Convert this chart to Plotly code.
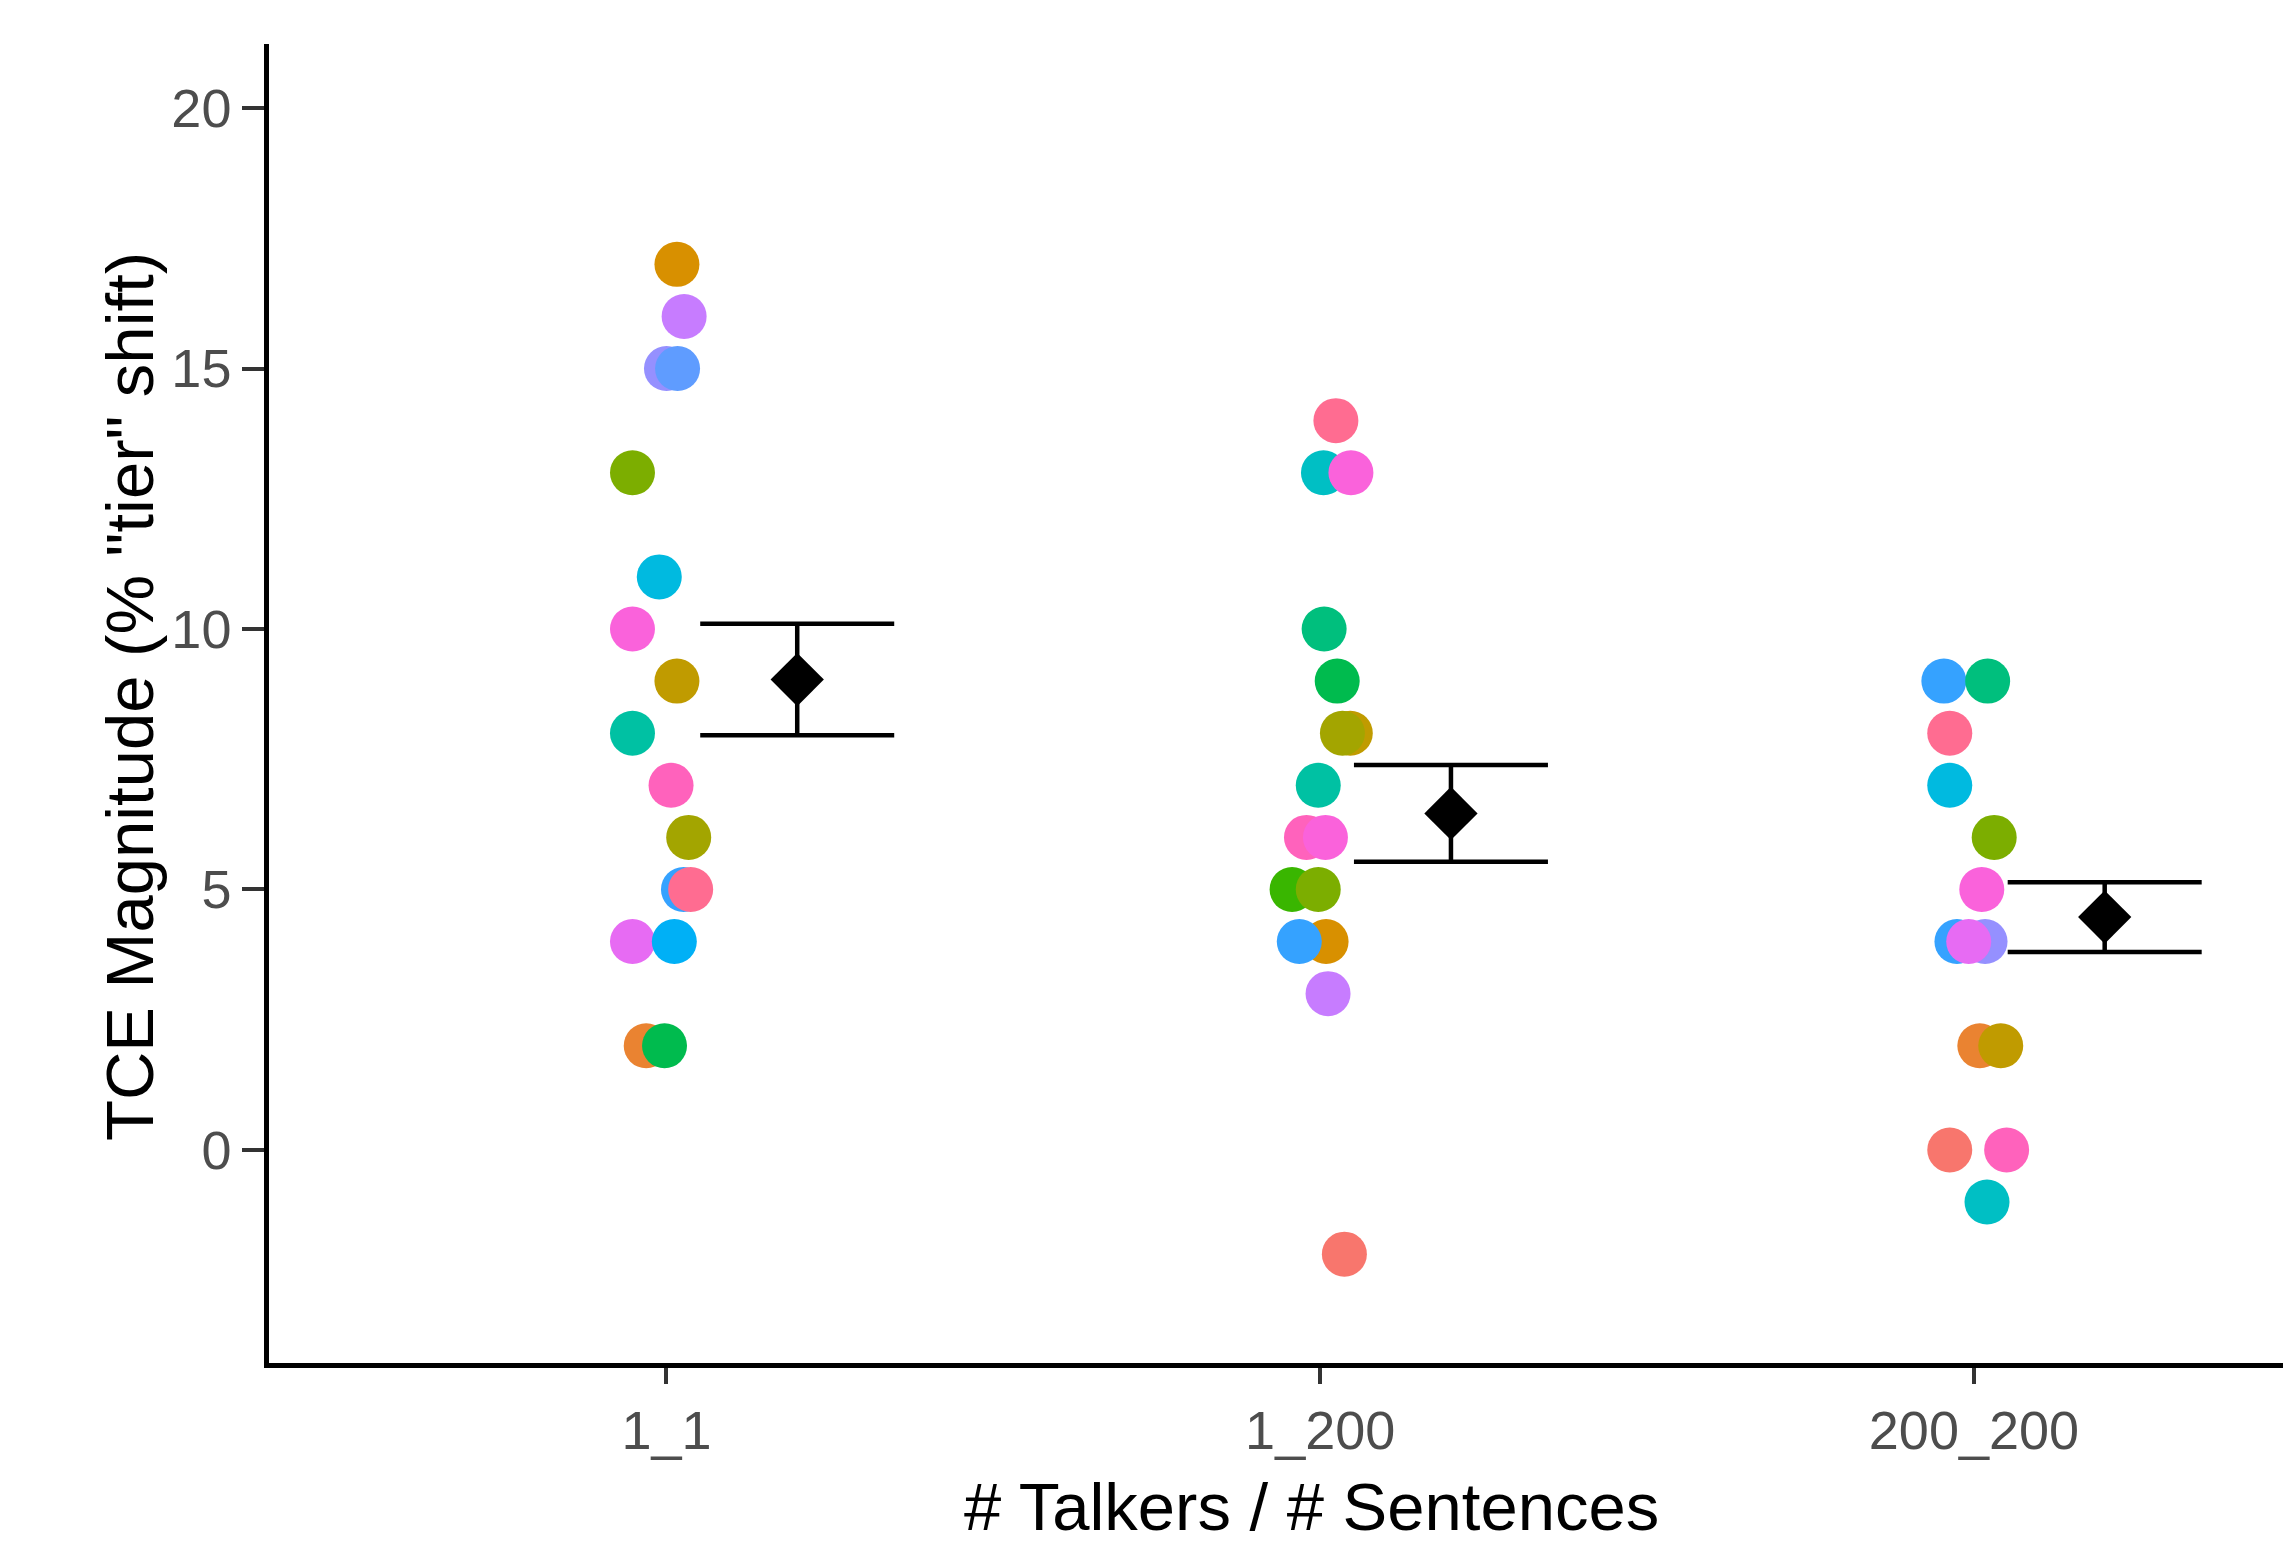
import plotly.graph_objects as go

# ---------------- data ----------------
categories = ["1_1", "1_200", "200_200"]

values_1_1 = [17, 16, 15, 15, 13, 11, 10, 9, 8, 7, 6, 5, 5, 4, 4, 2, 2]
values_1_200 = [14, 13, 13, 10, 9, 8, 8, 7, 6, 6, 5, 5, 4, 4, 3, -2]
values_200_200 = [9, 9, 8, 7, 6, 5, 4, 4, 4, 2, 2, 0, 0, -1]

mean_values = [9.03, 6.46, 4.47]
se_values = [1.07, 0.93, 0.67]

# ---------------- styles / positions ----------------
colors_1_1 = ["#D89000", "#C77CFF", "#9590FF", "#5F9CFF", "#7CAE00", "#00BAE0", "#FA62DB",
              "#C09B00", "#00C1A3", "#FF62BC", "#A3A500", "#35A2FF", "#FF6C91", "#E76BF3",
              "#00B0F6", "#EA8331", "#00BB4E"]
colors_1_200 = ["#FF6C91", "#00BFC4", "#FA62DB", "#00BF7D", "#00BB4E", "#C09B00", "#A3A500",
                "#00C1A3", "#FF62BC", "#FA62DB", "#39B600", "#7CAE00", "#D89000", "#35A2FF",
                "#C77CFF", "#F8766D"]
colors_200_200 = ["#35A2FF", "#00BF7D", "#FF6C91", "#00BAE0", "#7CAE00", "#FA62DB", "#35A2FF",
                  "#9590FF", "#E76BF3", "#EA8331", "#C09B00", "#F8766D", "#FF62BC", "#00BFC4"]

# horizontal jitter as seen in the picture (category units)
jitter_1_1 = [0.016, 0.027, 0.0, 0.017, -0.052, -0.011, -0.052, 0.016, -0.052, 0.007, 0.034,
              0.026, 0.037, -0.052, 0.012, -0.031, -0.003]
jitter_1_200 = [0.024, 0.005, 0.047, 0.006, 0.026, 0.046, 0.034, -0.003, -0.021, 0.008,
                -0.043, -0.003, 0.009, -0.032, 0.012, 0.037]
jitter_200_200 = [-0.046, 0.021, -0.037, -0.037, 0.031, 0.012, -0.026, 0.017, -0.008,
                  0.009, 0.041, -0.037, 0.050, 0.020]

mean_dodge = 0.2

groups = [
    (values_1_1, colors_1_1, jitter_1_1),
    (values_1_200, colors_1_200, jitter_1_200),
    (values_200_200, colors_200_200, jitter_200_200),
]

fig = go.Figure()

for gi, (vals, cols, jit) in enumerate(groups):
    xs = [gi + 1 + j for j in jit]
    fig.add_trace(go.Scatter(
        x=xs, y=vals, mode="markers",
        marker=dict(size=45, color=cols, line=dict(width=0)),
        showlegend=False, hoverinfo="y",
    ))

fig.add_trace(go.Scatter(
    x=[i + 1 + mean_dodge for i in range(len(categories))],
    y=mean_values,
    mode="markers",
    marker=dict(symbol="diamond", size=41, color="black", line=dict(width=0)),
    error_y=dict(type="data", array=se_values, visible=True, color="black",
                 thickness=4.5, width=97),
    showlegend=False,
))

# page body has an 8px default margin; compensate so the figure fills the window
OFF = 8
W, H = 2291 - OFF, 1544 - OFF
L, T, R = 269 - OFF, 44 - OFF, 0
B = H - T - 1319

font_family = "Liberation Sans, Arial, sans-serif"
axis_font = dict(family=font_family, size=54, color="#4D4D4D")
fig.update_layout(
    width=W, height=H,
    margin=dict(l=L, r=R, t=T, b=B, pad=0),
    paper_bgcolor="white", plot_bgcolor="white",
    xaxis=dict(
        range=[0.392, 3.485], tickmode="array", tickvals=[1, 2, 3], ticktext=categories,
        showgrid=False, zeroline=False, showline=True, linecolor="black", linewidth=4.5,
        ticks="outside", ticklen=16, tickwidth=3.5, tickcolor="#333333",
        tickfont=axis_font,
    ),
    yaxis=dict(
        range=[-4.09, 21.23], tickmode="array", tickvals=[0, 5, 10, 15, 20],
        showgrid=False, zeroline=False, showline=True, linecolor="black", linewidth=4.5,
        ticks="outside", ticklen=22, tickwidth=3.5, tickcolor="#333333",
        tickfont=axis_font,
    ),
    annotations=[
        dict(text="# Talkers / # Sentences", xref="paper", yref="paper",
             x=(1311 - OFF - L) / (W - L - R), y=(H - B - (1506 - OFF)) / (H - T - B),
             xanchor="center", yanchor="middle", showarrow=False,
             font=dict(family=font_family, size=67, color="black")),
        dict(text="TCE Magnitude (% \"tier\" shift)", xref="paper", yref="paper",
             x=(129 - OFF - L) / (W - L - R), y=(H - B - (697 - OFF)) / (H - T - B),
             xanchor="center", yanchor="middle", textangle=-90, showarrow=False,
             font=dict(family=font_family, size=67, color="black")),
    ],
)

fig.write_html("out.html")
